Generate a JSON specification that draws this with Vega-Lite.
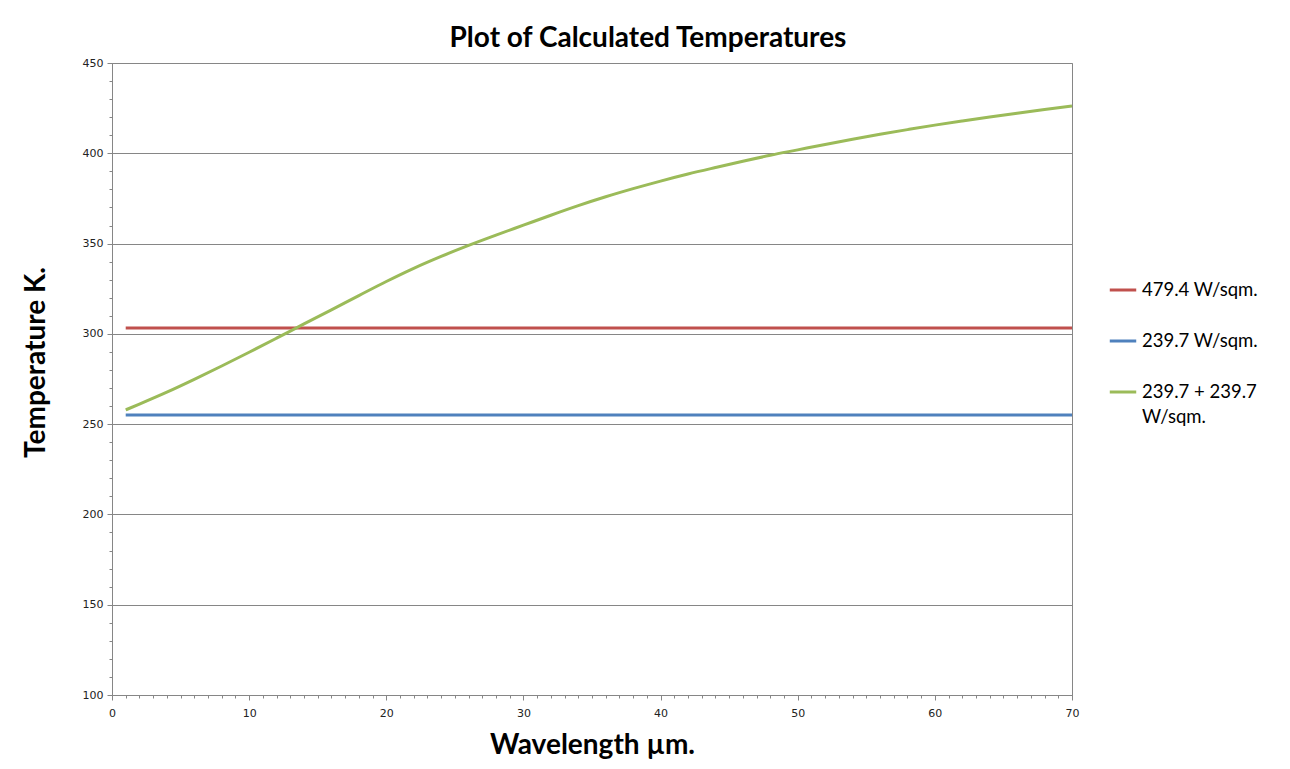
{
  "$schema": "https://vega.github.io/schema/vega-lite/v6.json",
  "autosize": "none",
  "width": 960,
  "height": 632,
  "padding": {"left": 112, "top": 63, "right": 218, "bottom": 74},
  "background": "white",
  "config": {
    "view": {"stroke": "#868686", "strokeWidth": 1},
    "font": "Lato",
    "style": {"guide-label": {"lineHeight": 25}}
  },
  "title": {
    "text": "Plot of Calculated Temperatures",
    "font": "Lato",
    "fontSize": 28,
    "fontWeight": "bold",
    "color": "black",
    "anchor": "middle",
    "dx": 56,
    "offset": 4
  },
  "data": {
    "values": [
      {"x": 1, "T": 303.2, "series": "479.4 W/sqm."},
      {"x": 34, "T": 303.2, "series": "479.4 W/sqm."},
      {"x": 70, "T": 303.2, "series": "479.4 W/sqm."},
      {"x": 1, "T": 255.0, "series": "239.7 W/sqm."},
      {"x": 34, "T": 255.0, "series": "239.7 W/sqm."},
      {"x": 70, "T": 255.0, "series": "239.7 W/sqm."},
      {"x": 1, "T": 257.9, "series": "239.7 + 239.7 W/sqm."},
      {"x": 2, "T": 261.1, "series": "239.7 + 239.7 W/sqm."},
      {"x": 4, "T": 267.7, "series": "239.7 + 239.7 W/sqm."},
      {"x": 6, "T": 274.8, "series": "239.7 + 239.7 W/sqm."},
      {"x": 8, "T": 282.2, "series": "239.7 + 239.7 W/sqm."},
      {"x": 10, "T": 289.8, "series": "239.7 + 239.7 W/sqm."},
      {"x": 12, "T": 297.6, "series": "239.7 + 239.7 W/sqm."},
      {"x": 14, "T": 305.5, "series": "239.7 + 239.7 W/sqm."},
      {"x": 16, "T": 313.3, "series": "239.7 + 239.7 W/sqm."},
      {"x": 18, "T": 321.2, "series": "239.7 + 239.7 W/sqm."},
      {"x": 20, "T": 329.0, "series": "239.7 + 239.7 W/sqm."},
      {"x": 22, "T": 336.3, "series": "239.7 + 239.7 W/sqm."},
      {"x": 24, "T": 342.9, "series": "239.7 + 239.7 W/sqm."},
      {"x": 26, "T": 349.0, "series": "239.7 + 239.7 W/sqm."},
      {"x": 28, "T": 354.7, "series": "239.7 + 239.7 W/sqm."},
      {"x": 30, "T": 360.2, "series": "239.7 + 239.7 W/sqm."},
      {"x": 32, "T": 365.7, "series": "239.7 + 239.7 W/sqm."},
      {"x": 34, "T": 371.0, "series": "239.7 + 239.7 W/sqm."},
      {"x": 36, "T": 375.9, "series": "239.7 + 239.7 W/sqm."},
      {"x": 38, "T": 380.4, "series": "239.7 + 239.7 W/sqm."},
      {"x": 40, "T": 384.6, "series": "239.7 + 239.7 W/sqm."},
      {"x": 42, "T": 388.5, "series": "239.7 + 239.7 W/sqm."},
      {"x": 44, "T": 392.1, "series": "239.7 + 239.7 W/sqm."},
      {"x": 46, "T": 395.6, "series": "239.7 + 239.7 W/sqm."},
      {"x": 48, "T": 398.9, "series": "239.7 + 239.7 W/sqm."},
      {"x": 50, "T": 401.9, "series": "239.7 + 239.7 W/sqm."},
      {"x": 52, "T": 404.9, "series": "239.7 + 239.7 W/sqm."},
      {"x": 54, "T": 407.8, "series": "239.7 + 239.7 W/sqm."},
      {"x": 56, "T": 410.5, "series": "239.7 + 239.7 W/sqm."},
      {"x": 58, "T": 413.1, "series": "239.7 + 239.7 W/sqm."},
      {"x": 60, "T": 415.6, "series": "239.7 + 239.7 W/sqm."},
      {"x": 62, "T": 417.9, "series": "239.7 + 239.7 W/sqm."},
      {"x": 64, "T": 420.1, "series": "239.7 + 239.7 W/sqm."},
      {"x": 66, "T": 422.2, "series": "239.7 + 239.7 W/sqm."},
      {"x": 68, "T": 424.2, "series": "239.7 + 239.7 W/sqm."},
      {"x": 70, "T": 426.2, "series": "239.7 + 239.7 W/sqm."}
    ]
  },
  "layer": [
    {
      "mark": {"type": "line", "opacity": 0},
      "encoding": {
        "x": {
          "field": "x", "type": "quantitative",
          "scale": {"domain": [0, 70], "nice": false, "zero": false},
          "axis": {
            "orient": "bottom",
            "values": [0,1,2,3,4,5,6,7,8,9,10,11,12,13,14,15,16,17,18,19,20,21,22,23,24,25,26,27,28,29,30,31,32,33,34,35,36,37,38,39,40,41,42,43,44,45,46,47,48,49,50,51,52,53,54,55,56,57,58,59,60,61,62,63,64,65,66,67,68,69,70],
            "labels": false, "grid": false, "domain": false,
            "tickSize": 3, "tickColor": "#868686", "title": null
          }
        },
        "y": {
          "field": "T", "type": "quantitative",
          "scale": {"domain": [100, 450], "nice": false, "zero": false},
          "axis": {
            "orient": "left",
            "values": [100,110,120,130,140,150,160,170,180,190,200,210,220,230,240,250,260,270,280,290,300,310,320,330,340,350,360,370,380,390,400,410,420,430,440,450],
            "labels": false, "grid": false, "domain": false,
            "tickSize": 3, "tickColor": "#868686", "title": null
          }
        },
        "detail": {"field": "series"}
      }
    },
    {
      "mark": {"type": "line", "strokeWidth": 3, "interpolate": "monotone"},
      "encoding": {
        "x": {
          "field": "x", "type": "quantitative",
          "scale": {"domain": [0, 70], "nice": false, "zero": false},
          "axis": {
            "orient": "bottom",
            "values": [0, 10, 20, 30, 40, 50, 60, 70],
            "grid": false,
            "domainColor": "#868686",
            "tickColor": "#868686",
            "tickSize": 5,
            "labelFlush": false,
            "labelFont": "DejaVu Sans",
            "labelFontSize": 11,
            "labelColor": "#222222",
            "labelPadding": 7,
            "title": "Wavelength µm.",
            "titleFont": "Lato",
            "titleFontSize": 28,
            "titleFontWeight": "bold",
            "titleColor": "black",
            "titleX": 480,
            "titleY": 50,
            "titleBaseline": "middle",
            "titleAnchor": "middle"
          }
        },
        "y": {
          "field": "T", "type": "quantitative",
          "scale": {"domain": [100, 450], "nice": false, "zero": false},
          "axis": {
            "orient": "left",
            "values": [100, 150, 200, 250, 300, 350, 400, 450],
            "grid": true,
            "gridColor": "#868686",
            "gridWidth": 1,
            "domainColor": "#868686",
            "tickColor": "#868686",
            "tickSize": 5,
            "labelFlush": false,
            "labelFont": "DejaVu Sans",
            "labelFontSize": 11,
            "labelColor": "#222222",
            "labelPadding": 4,
            "title": "Temperature K.",
            "titleFont": "Lato",
            "titleFontSize": 28,
            "titleFontWeight": "bold",
            "titleColor": "black",
            "titleX": -76,
            "titleY": 299,
            "titleAngle": -90,
            "titleBaseline": "middle",
            "titleAnchor": "middle"
          }
        },
        "color": {
          "field": "series", "type": "nominal",
          "scale": {
            "domain": ["479.4 W/sqm.", "239.7 W/sqm.", "239.7 + 239.7 W/sqm."],
            "range": ["#C0504D", "#4F81BD", "#9BBB59"]
          },
          "legend": {
            "orient": "none",
            "legendX": 996,
            "legendY": 212,
            "title": null,
            "symbolType": "stroke",
            "symbolSize": 700,
            "symbolStrokeWidth": 3,
            "labelFont": "Lato",
            "labelFontSize": 18.5,
            "labelColor": "black",
            "labelOffset": 4,
            "rowPadding": 26,
            "labelLimit": 200,
            "labelExpr": "datum.label == '239.7 + 239.7 W/sqm.' ? ['239.7 + 239.7', 'W/sqm.'] : datum.label"
          }
        }
      }
    }
  ],
  "resolve": {"axis": {"x": "independent", "y": "independent"}}
}
